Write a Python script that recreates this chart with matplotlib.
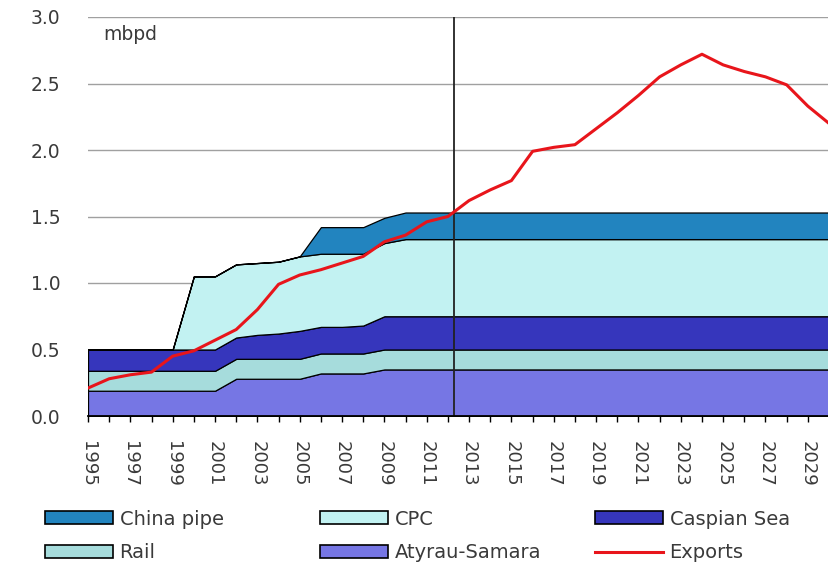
import matplotlib.pyplot as plt
from matplotlib.patches import Patch
from matplotlib.lines import Line2D

years = list(range(1995, 2031))

# pipeline capacity, mbpd (stacked from the bottom up)
atyrau_samara = [0.19, 0.19, 0.19, 0.19, 0.19, 0.19, 0.19,
                 0.28, 0.28, 0.28, 0.28,
                 0.32, 0.32, 0.32,
                 0.35, 0.35, 0.35, 0.35, 0.35, 0.35, 0.35, 0.35, 0.35, 0.35, 0.35,
                 0.35, 0.35, 0.35, 0.35, 0.35, 0.35, 0.35, 0.35, 0.35, 0.35, 0.35]
rail = [0.15] * 36
caspian_sea = [0.16, 0.16, 0.16, 0.16, 0.16, 0.16, 0.16,
               0.16, 0.18, 0.19, 0.21, 0.20, 0.20, 0.21,
               0.25, 0.25, 0.25, 0.25, 0.25, 0.25, 0.25, 0.25, 0.25, 0.25, 0.25,
               0.25, 0.25, 0.25, 0.25, 0.25, 0.25, 0.25, 0.25, 0.25, 0.25, 0.25]
cpc = [0.0, 0.0, 0.0, 0.0, 0.0, 0.55, 0.55,
       0.55, 0.54, 0.54, 0.56, 0.55, 0.55, 0.54,
       0.55, 0.58, 0.58, 0.58, 0.58, 0.58, 0.58, 0.58, 0.58, 0.58, 0.58,
       0.58, 0.58, 0.58, 0.58, 0.58, 0.58, 0.58, 0.58, 0.58, 0.58, 0.58]
china_pipe = [0.0, 0.0, 0.0, 0.0, 0.0, 0.0, 0.0,
              0.0, 0.0, 0.0, 0.0, 0.20, 0.20, 0.20,
              0.19, 0.20, 0.20, 0.20, 0.20, 0.20, 0.20, 0.20, 0.20, 0.20, 0.20,
              0.20, 0.20, 0.20, 0.20, 0.20, 0.20, 0.20, 0.20, 0.20, 0.20, 0.20]

exports = [0.21, 0.28, 0.31, 0.33, 0.45, 0.49, 0.57, 0.65, 0.80, 0.99,
           1.06, 1.10, 1.15, 1.20, 1.31, 1.36, 1.46, 1.50, 1.62, 1.70,
           1.77, 1.99, 2.02, 2.04, 2.16, 2.28, 2.41, 2.55, 2.64, 2.72,
           2.64, 2.59, 2.55, 2.49, 2.33, 2.20]

forecast_start = 2012.3
tick_years = list(range(1995, 2030, 2))
y_ticks = [0.0, 0.5, 1.0, 1.5, 2.0, 2.5, 3.0]

colors = {
    'Atyrau-Samara': '#7676e4',
    'Rail': '#a6dcdc',
    'Caspian Sea': '#3636bc',
    'CPC': '#c2f2f2',
    'China pipe': '#2284bf',
}
text_color = '#3a3a3a'

plt.rcParams['font.family'] = ['DejaVu Sans']

fig = plt.figure(figsize=(8.29, 5.62), dpi=100)
ax = fig.add_axes([88 / 829, 146 / 562, 741 / 829, 399 / 562])

ax.stackplot(years, atyrau_samara, rail, caspian_sea, cpc, china_pipe,
             colors=[colors['Atyrau-Samara'], colors['Rail'], colors['Caspian Sea'],
                     colors['CPC'], colors['China pipe']],
             edgecolor='black', linewidth=0.9, zorder=2)
ax.plot(years, exports, color='#e8151b', linewidth=2.2, zorder=4)
ax.axvline(forecast_start, color='#222222', linewidth=1.3, zorder=3)

ax.set_xlim(1995, 2029.65)
ax.set_ylim(0, 3.0)
ax.set_yticks(y_ticks)
ax.set_yticklabels([f'{v:.1f}' for v in y_ticks])
ax.set_xticks(years, minor=True)
ax.set_xticks(tick_years)
ax.set_xticklabels([str(y) for y in tick_years], rotation=-90, va='top', ha='center')

ax.yaxis.grid(True, color='#a0a0a0', linewidth=1.0, zorder=0)
ax.set_axisbelow(True)
for side in ['top', 'right', 'left']:
    ax.spines[side].set_visible(False)
ax.spines['bottom'].set_linewidth(1.3)
ax.spines['bottom'].set_zorder(5)

ax.tick_params(axis='y', length=0, pad=20, labelsize=13.5, labelcolor=text_color)
ax.tick_params(axis='x', which='both', length=4, width=1, direction='out',
               pad=14, labelsize=13, labelcolor=text_color)

ax.text(0.02, 0.955, 'mbpd', transform=ax.transAxes, fontsize=13.5,
        color=text_color, va='center', ha='left')

# legend in three columns below the plot
def patch(name):
    return Patch(facecolor=colors[name], edgecolor='black', linewidth=1.2, label=name)

columns = [
    ([patch('China pipe'), patch('Rail')], 35),
    ([patch('CPC'), patch('Atyrau-Samara')], 310),
    ([patch('Caspian Sea'),
      Line2D([0], [0], color='#e8151b', linewidth=2.2, label='Exports')], 585),
]
for handles, x in columns:
    fig.legend(handles=handles, loc='upper left', bbox_to_anchor=(x / 829, 1 - 500 / 562),
               frameon=False, borderpad=0, fontsize=14, handlelength=3.5,
               handleheight=0.65, handletextpad=0.35, labelspacing=0.75,
               labelcolor=text_color)

fig.savefig('out.png', dpi=100)
